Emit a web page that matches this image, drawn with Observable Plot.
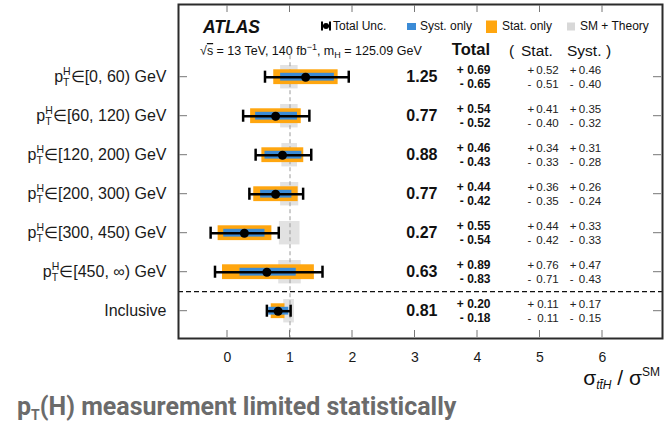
<!DOCTYPE html>
<html>
<head>
<meta charset="utf-8">
<script src="https://cdn.jsdelivr.net/npm/d3@7"></script>
<script src="https://cdn.jsdelivr.net/npm/@observablehq/plot@0.6"></script>
<style>
  body { margin: 0; background: #fff; }
  #chart svg { display: block; }
  #title {
    font-family: Roboto, sans-serif; font-weight: 700; font-size: 25px;
    color: #6b6b6b; margin: 0 0 0 17px; line-height: 26px; white-space: nowrap;
  }
  #title .sub { font-size: 14px; position: relative; top: 5px; }
</style>
</head>
<body>
<div id="chart"></div>
<div id="title">p<span class="sub">T</span>(H) measurement limited statistically</div>
<script>
// pT(H) bins of the ttH signal-strength measurement, plus the inclusive result
const bins    = ["[0, 60)", "[60, 120)", "[120, 200)", "[200, 300)", "[300, 450)", "[450, ∞)", "Inclusive"];
const mu      = [1.25, 0.77, 0.88, 0.77, 0.27, 0.63, 0.81];
const totUp   = [0.69, 0.54, 0.46, 0.44, 0.55, 0.89, 0.20];
const totDn   = [0.65, 0.52, 0.43, 0.42, 0.54, 0.83, 0.18];
const statUp  = [0.52, 0.41, 0.34, 0.36, 0.44, 0.76, 0.11];
const statDn  = [0.51, 0.40, 0.33, 0.35, 0.42, 0.71, 0.11];
const systUp  = [0.46, 0.35, 0.31, 0.26, 0.33, 0.47, 0.17];
const systDn  = [0.40, 0.32, 0.28, 0.24, 0.33, 0.43, 0.15];
// SM prediction theory uncertainty around 1
const smUp    = [0.13, 0.13, 0.12, 0.14, 0.16, 0.18, 0.07];
const smDn    = [0.15, 0.15, 0.13, 0.15, 0.17, 0.18, 0.10];
const xTicks  = [0, 1, 2, 3, 4, 5, 6];

const table = bins.map((b, i) => ({
  i, bin: b, mu: mu[i],
  totUp: totUp[i], totDn: totDn[i],
  statUp: statUp[i], statDn: statDn[i],
  systUp: systUp[i], systDn: systDn[i],
  smUp: smUp[i], smDn: smDn[i]
}));

const font = "'Liberation Sans', Arial, Helvetica, sans-serif";
const f2 = v => v.toFixed(2);
const ORANGE = "#ffa60f", BLUE = "#3b8bd6", GREY = "#e2e2e2";

const plot = Plot.plot({
  width: 669, height: 394,
  marginLeft: 178, marginRight: 7, marginTop: 4, marginBottom: 56,
  style: { fontFamily: font, color: "#1a1a1a", background: "#fff" },
  x: { domain: [-0.784, 6.96] },
  y: { domain: [6.70, -1.864] },
  marks: [
    // SM + theory band
    Plot.rect(table, { x1: d => 1 - d.smDn, x2: d => 1 + d.smUp, y1: d => d.i - 0.3, y2: d => d.i + 0.3, fill: GREY }),
    Plot.ruleX([1], { y1: -0.55, y2: 6.7, stroke: "#9a9a9a", strokeDasharray: "4,3" }),
    Plot.ruleY([5.5], { stroke: "#111", strokeDasharray: "5,3", strokeWidth: 1.2 }),
    // stat and syst components
    Plot.rect(table, { x1: d => d.mu - d.statDn, x2: d => d.mu + d.statUp, y1: d => d.i - 0.19, y2: d => d.i + 0.19, fill: ORANGE }),
    Plot.rect(table, { x1: d => d.mu - d.systDn, x2: d => d.mu + d.systUp, y1: d => d.i - 0.1, y2: d => d.i + 0.1, fill: BLUE }),
    // total uncertainty error bar
    Plot.ruleY(table, { x1: d => d.mu - d.totDn, x2: d => d.mu + d.totUp, y: "i", stroke: "#000", strokeWidth: 2.5 }),
    Plot.ruleX(table, { x: d => d.mu - d.totDn, y1: d => d.i - 0.155, y2: d => d.i + 0.155, stroke: "#000", strokeWidth: 2.5 }),
    Plot.ruleX(table, { x: d => d.mu + d.totUp, y1: d => d.i - 0.155, y2: d => d.i + 0.155, stroke: "#000", strokeWidth: 2.5 }),
    Plot.dot(table, { x: "mu", y: "i", r: 4.5, fill: "#000", stroke: null }),
    // numeric columns
    Plot.text(table, { x: 3.11, y: "i", text: d => f2(d.mu), fontSize: 16, fontWeight: "bold", fill: "#111" }),
    Plot.text(table, { x: 4.208, y: d => d.i - 0.17, text: d => "+ " + f2(d.totUp), fontSize: 12, fontWeight: "bold", textAnchor: "end", fill: "#111" }),
    Plot.text(table, { x: 4.208, y: d => d.i + 0.17, text: d => "- " + f2(d.totDn), fontSize: 12, fontWeight: "bold", textAnchor: "end", fill: "#111" }),
    Plot.text(table, { x: 4.80, y: d => d.i - 0.17, text: () => "+", fontSize: 11.5, textAnchor: "start", fill: "#222" }),
    Plot.text(table, { x: 4.80, y: d => d.i + 0.17, text: () => "-", fontSize: 11.5, textAnchor: "start", fill: "#222" }),
    Plot.text(table, { x: 5.30, y: d => d.i - 0.17, text: d => f2(d.statUp), fontSize: 11.5, textAnchor: "end", fill: "#222" }),
    Plot.text(table, { x: 5.30, y: d => d.i + 0.17, text: d => f2(d.statDn), fontSize: 11.5, textAnchor: "end", fill: "#222" }),
    Plot.text(table, { x: 5.477, y: d => d.i - 0.17, text: () => "+", fontSize: 11.5, textAnchor: "start", fill: "#222" }),
    Plot.text(table, { x: 5.477, y: d => d.i + 0.17, text: () => "-", fontSize: 11.5, textAnchor: "start", fill: "#222" }),
    Plot.text(table, { x: 5.98, y: d => d.i - 0.17, text: d => f2(d.systUp), fontSize: 11.5, textAnchor: "end", fill: "#222" }),
    Plot.text(table, { x: 5.98, y: d => d.i + 0.17, text: d => f2(d.systDn), fontSize: 11.5, textAnchor: "end", fill: "#222" }),
    // axes
    Plot.axisX(xTicks, { tickSize: 0, tickPadding: 14, fontSize: 14, label: null, fill: "#1a1a1a" }),
    Plot.axisY(d3.range(bins.length), {
      tickSize: 0, tickPadding: 12, fontSize: 16, label: null, fill: "#1a1a1a",
      tickFormat: i => i < 6 ? "p∈" + bins[i] + " GeV" : bins[i]
    }),
    Plot.frame({ stroke: "#2b2b2b", strokeWidth: 2 })
  ]
});

document.getElementById("chart").appendChild(plot);

const svg = d3.select(plot);
const sx = plot.scale("x"), sy = plot.scale("y");
const frameTop = 4, frameBottom = 338, frameLeft = 178, frameRight = 662;

// pT^H labels with stacked sub/superscript
svg.selectAll('[aria-label="y-axis tick label"] text').each(function () {
  const s = this.textContent;
  if (!s.startsWith("p∈")) return;
  const rest = s.slice(1);
  const t = d3.select(this);
  t.text(null);
  t.append("tspan").text("p");
  t.append("tspan").attr("font-size", 10.5).attr("dy", -7).text("H");
  t.append("tspan").attr("font-size", 10.5).attr("dx", -7.6).attr("dy", 11).text("T");
  t.append("tspan").attr("dx", 1.2).attr("dy", -4).text(rest);
});

// inward frame ticks
const g = svg.append("g").attr("stroke", "#777").attr("stroke-width", 1);
for (const v of xTicks) {
  const px = sx.apply(v);
  g.append("line").attr("x1", px).attr("x2", px).attr("y1", frameTop + 1).attr("y2", frameTop + 8);
  g.append("line").attr("x1", px).attr("x2", px).attr("y1", frameBottom - 1).attr("y2", frameBottom - 8);
}
for (let i = 0; i < bins.length; ++i) {
  const py = sy.apply(i);
  g.append("line").attr("x1", frameLeft + 1).attr("x2", frameLeft + 9).attr("y1", py).attr("y2", py);
  g.append("line").attr("x1", frameRight - 1).attr("x2", frameRight - 9).attr("y1", py).attr("y2", py);
}

// header: experiment label, legend, column titles
const h = svg.append("g").attr("font-family", font).attr("fill", "#111").attr("text-anchor", "start");
h.append("text").attr("x", 203).attr("y", 33).attr("font-size", 17.5)
  .attr("font-weight", "bold").attr("font-style", "italic").text("ATLAS");

// legend: total uncertainty icon
const lg = h.append("g");
lg.append("line").attr("x1", 322).attr("x2", 330).attr("y1", 26).attr("y2", 26).attr("stroke", "#000").attr("stroke-width", 2);
lg.append("line").attr("x1", 322).attr("x2", 322).attr("y1", 21.5).attr("y2", 30.5).attr("stroke", "#000").attr("stroke-width", 2);
lg.append("line").attr("x1", 330).attr("x2", 330).attr("y1", 21.5).attr("y2", 30.5).attr("stroke", "#000").attr("stroke-width", 2);
lg.append("circle").attr("cx", 326).attr("cy", 26).attr("r", 3).attr("fill", "#000");
lg.append("text").attr("x", 333).attr("y", 30.3).attr("font-size", 12).text("Total Unc.");
lg.append("rect").attr("x", 407).attr("y", 23).attr("width", 9).attr("height", 7).attr("fill", BLUE);
lg.append("text").attr("x", 420).attr("y", 30.3).attr("font-size", 12).text("Syst. only");
lg.append("rect").attr("x", 486).attr("y", 20.5).attr("width", 11).attr("height", 12.5).attr("fill", ORANGE);
lg.append("text").attr("x", 502).attr("y", 30.3).attr("font-size", 12).text("Stat. only");
lg.append("rect").attr("x", 567).attr("y", 22.5).attr("width", 8).attr("height", 8).attr("fill", "#d8d8d8");
lg.append("text").attr("x", 580).attr("y", 30.3).attr("font-size", 12).text("SM + Theory");

// energy / luminosity / mass line
const en = h.append("text").attr("x", 200).attr("y", 55).attr("font-size", 12.5);
en.append("tspan").text("√");
en.append("tspan").attr("text-decoration", "overline").text("s");
en.append("tspan").text(" = 13 TeV, 140 fb");
en.append("tspan").attr("font-size", 9).attr("dy", -5).text("−1");
en.append("tspan").attr("dy", 5).text(", m");
en.append("tspan").attr("font-size", 9).attr("dy", 3).text("H");
en.append("tspan").attr("dy", -3).text(" = 125.09 GeV");

h.append("text").attr("x", 490).attr("y", 55).attr("text-anchor", "end")
  .attr("font-size", 16.5).attr("font-weight", "bold").text("Total");
const hs = h.append("text").attr("y", 55.5).attr("font-size", 15.5);
hs.append("tspan").attr("x", 509).text("(");
hs.append("tspan").attr("x", 521).text("Stat.");
hs.append("tspan").attr("x", 567).text("Syst.");
hs.append("tspan").attr("x", 606).text(")");

// axis title sigma_ttH / sigma^SM
const at = svg.append("text").attr("x", 660).attr("y", 385).attr("text-anchor", "end")
  .attr("font-family", font).attr("font-size", 21).attr("fill", "#111");
at.append("tspan").text("σ");
at.append("tspan").attr("font-size", 12).attr("font-style", "italic").attr("dy", 4).text("tt\u0304H");
at.append("tspan").attr("dy", -4).text(" / σ");
at.append("tspan").attr("font-size", 12).attr("dy", -9).text("SM");
</script>
</body>
</html>
